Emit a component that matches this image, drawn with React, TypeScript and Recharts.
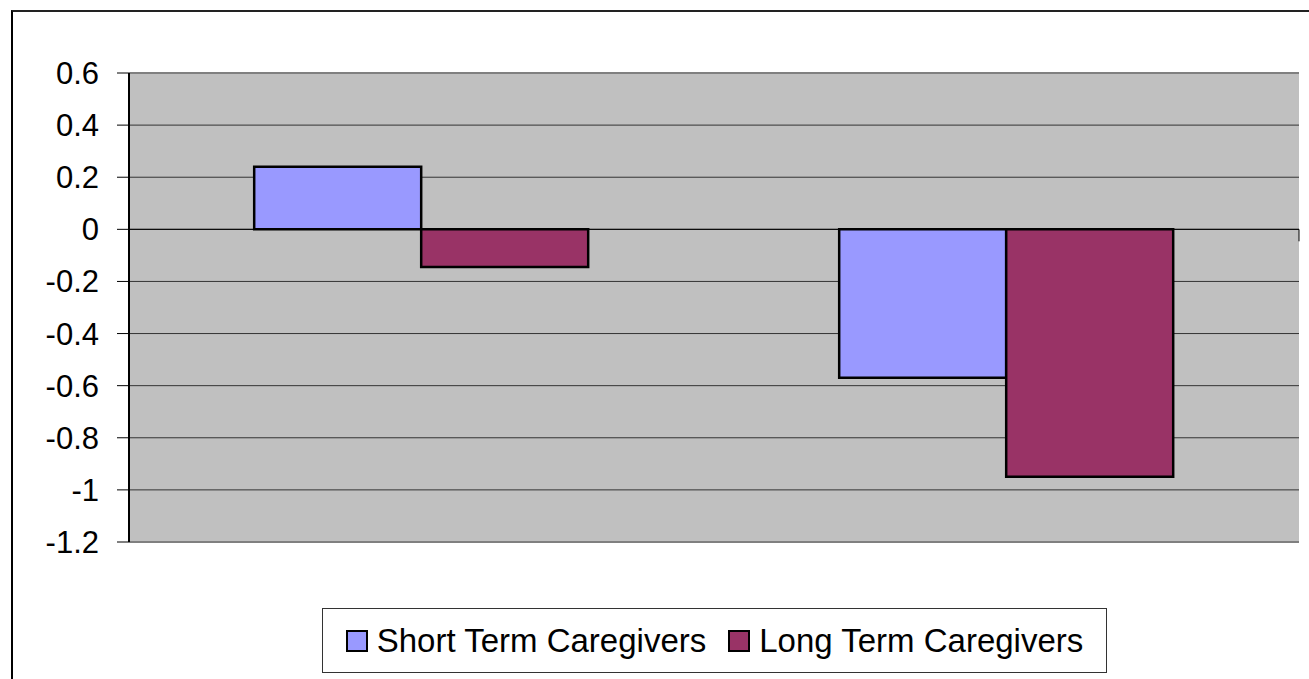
import React from "react";
import {
  BarChart,
  Bar,
  XAxis,
  YAxis,
  CartesianGrid,
  ReferenceLine,
} from "recharts";

const groups = ["1", "2"];
const shortTerm = [0.24, -0.57];
const longTerm = [-0.145, -0.95];
const yTicks = [0.6, 0.4, 0.2, 0, -0.2, -0.4, -0.6, -0.8, -1, -1.2];
const seriesNames = ["Short Term Caregivers", "Long Term Caregivers"];
const seriesColors = ["#9999FF", "#993366"];

const FONT = '"Liberation Sans", Arial, sans-serif';

const data = groups.map((g, i) => ({
  group: g,
  short: shortTerm[i],
  long: longTerm[i],
}));

const fmt = (v: number) => String(Number(v.toFixed(1)));

function LegendBox() {
  return (
    <div
      style={{
        position: "absolute",
        left: 322,
        top: 608,
        width: 785,
        height: 65,
        boxSizing: "border-box",
        border: "1px solid #333",
        background: "#fff",
        display: "flex",
        alignItems: "center",
        justifyContent: "center",
        fontFamily: FONT,
        fontSize: 33,
        color: "#000",
      }}
    >
      {seriesNames.map((name, i) => (
        <div
          key={name}
          style={{ display: "flex", alignItems: "center", marginLeft: i ? 22 : 0 }}
        >
          <span
            style={{
              width: 22,
              height: 22,
              boxSizing: "border-box",
              border: "2.5px solid #000",
              background: seriesColors[i],
              marginRight: 9,
              display: "inline-block",
            }}
          />
          <span>{name}</span>
        </div>
      ))}
    </div>
  );
}

export default function App() {
  return (
    <div
      style={{
        position: "absolute",
        left: 0,
        top: 0,
        width: 1309,
        height: 679,
        overflow: "hidden",
        background: "#fff",
      }}
    >
      {/* outer chart frame, runs off the right and bottom edges */}
      <div
        style={{
          position: "absolute",
          left: 11,
          top: 10,
          width: 1400,
          height: 800,
          borderTop: "2px solid #222",
          borderLeft: "2px solid #000",
        }}
      />
      <div style={{ position: "absolute", left: 0, top: 0 }}>
        <BarChart
          width={1309}
          height={679}
          data={data}
          margin={{ top: 73, right: 10, left: 0, bottom: 137 }}
          barCategoryGap="21.4%"
          barGap={0}
        >
          <CartesianGrid
            vertical={false}
            fill="#C0C0C0"
            fillOpacity={1}
            stroke="#333"
            strokeWidth={1}
          />
          <XAxis dataKey="group" hide />
          <XAxis xAxisId="num" type="number" domain={[0, 2]} hide />
          <YAxis
            width={129}
            domain={[-1.2, 0.6]}
            ticks={yTicks}
            interval={0}
            tickFormatter={fmt}
            tickSize={12}
            tickMargin={18}
            axisLine={{ stroke: "#000", strokeWidth: 2 }}
            tickLine={{ stroke: "#000", strokeWidth: 1 }}
            tick={{ fill: "#000", fontSize: 31, fontFamily: FONT }}
          />
          <ReferenceLine y={0.6} stroke="#808080" strokeWidth={2} />
          <ReferenceLine y={-1.2} stroke="#808080" strokeWidth={2} />
          <ReferenceLine
            xAxisId="num"
            segment={[
              { x: 2, y: 0.6 },
              { x: 2, y: -1.2 },
            ]}
            stroke="#808080"
            strokeWidth={2}
          />
          <ReferenceLine y={0} stroke="#000" strokeWidth={1} />
          <ReferenceLine
            xAxisId="num"
            segment={[
              { x: 1, y: 0 },
              { x: 1, y: -0.046 },
            ]}
            stroke="#000"
          />
          <ReferenceLine
            xAxisId="num"
            segment={[
              { x: 2, y: 0 },
              { x: 2, y: -0.046 },
            ]}
            stroke="#000"
          />
          <Bar
            dataKey="short"
            name={seriesNames[0]}
            fill={seriesColors[0]}
            stroke="#000"
            strokeWidth={2.5}
            isAnimationActive={false}
          />
          <Bar
            dataKey="long"
            name={seriesNames[1]}
            fill={seriesColors[1]}
            stroke="#000"
            strokeWidth={2.5}
            isAnimationActive={false}
          />
        </BarChart>
      </div>
      <LegendBox />
    </div>
  );
}
